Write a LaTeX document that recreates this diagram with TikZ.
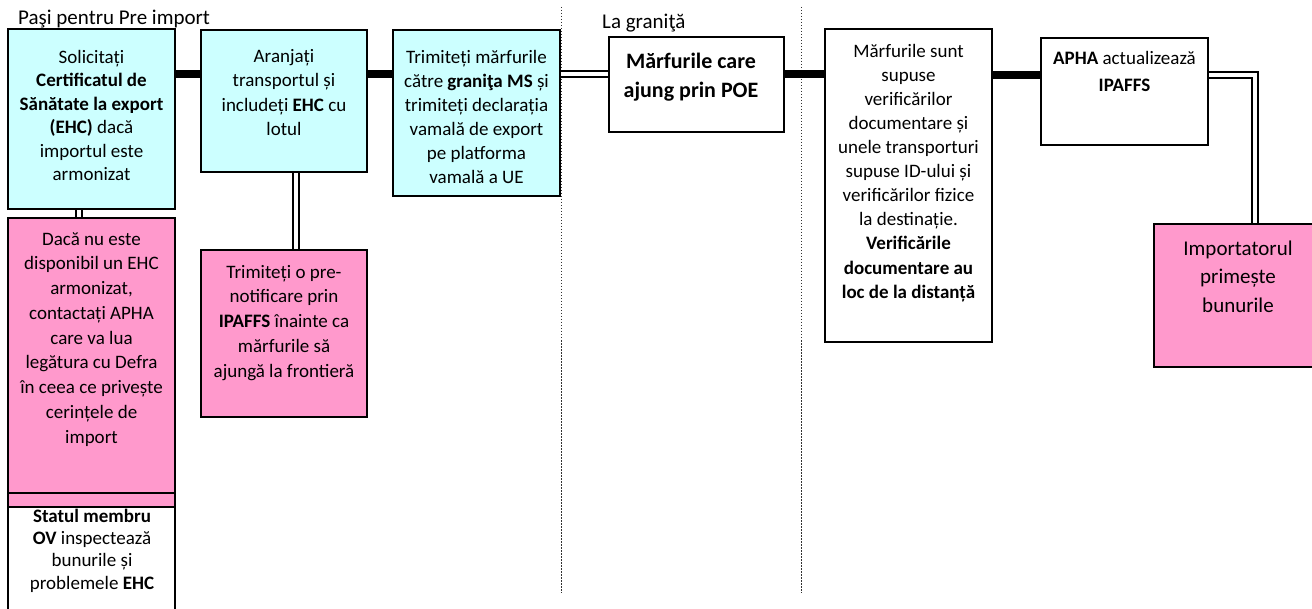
\documentclass[tikz,border=0pt]{standalone}
\usepackage{fontspec}
\setmainfont{Carlito}
\usetikzlibrary{backgrounds}
\definecolor{cyanbox}{HTML}{CCFFFF}
\definecolor{pinkbox}{HTML}{FF99CC}
\begin{document}
\begin{tikzpicture}[x=1pt,y=-1pt,
  box/.style={draw=black, line width=1.8pt, rectangle, inner sep=0pt, outer sep=0pt, anchor=north west},
  cbox/.style={box, fill=cyanbox},
  pbox/.style={box, fill=pinkbox},
  wbox/.style={box, fill=white},
  txt/.style args={#1/#2}{inner sep=0pt, anchor=north, align=center, font=\fontsize{#1}{#2}\selectfont},
  ttl/.style={inner sep=0pt, anchor=base west, font=\fontsize{21}{25}\selectfont},
  thickcon/.style={line width=8pt, black},
  dblcon/.style={draw=black, line width=2.2pt, double=white, double distance=3.2pt},
  divider/.style={line width=0.8pt, dash pattern=on 1.5pt off 1.5pt, black!80}
]
\useasboundingbox (0,0) rectangle (1312,609);

% titles
\node[ttl] (t1) at (18,25) {Paşi pentru Pre import};
\node[ttl] (t2) at (602,29) {La graniţă};

% boxes
\node[cbox, minimum width=167pt, minimum height=180pt] (A) at (8,29) {};
\node[cbox, minimum width=166pt, minimum height=142pt] (B) at (201,30) {};
\node[cbox, minimum width=167pt, minimum height=166pt] (C) at (393,30) {};
\node[wbox, minimum width=175pt, minimum height=95pt] (D) at (609,37) {};
\node[wbox, minimum width=167pt, minimum height=313pt] (E) at (825,29) {};
\node[wbox, minimum width=167pt, minimum height=107pt] (F) at (1041,38) {};
\node[pbox, minimum width=169pt, minimum height=143pt] (G) at (1154,224) {};
\node[pbox, minimum width=167pt, minimum height=275pt] (H) at (8,218) {};
\node[pbox, minimum width=167pt, minimum height=14pt] (S) at (8,493) {};
\node[wbox, minimum width=167pt, minimum height=123pt] (I) at (8,507) {};
\node[pbox, minimum width=166pt, minimum height=167pt] (J) at (201,250) {};

% texts
\node[txt=19/23.5] (tA) at (91.5,46.5) {\strut Solicitați\\\textbf{Certificatul de}\\\textbf{Sănătate la export}\\\textbf{(EHC)} dacă\\importul este\\armonizat};
\node[txt=19/24.2] (tB) at (284,45.6) {\strut Aranjați\\transportul și\\includeți \textbf{EHC} cu\\lotul};
\node[txt=19/24] (tC) at (476.5,46.2) {\strut Trimiteți mărfurile\\către \textbf{graniţa MS} și\\trimiteți declarația\\vamală de export\\pe platforma\\vamală a UE};
\node[txt=22/29] (tD) at (691,47.7) {\strut\textbf{Mărfurile care}\\\textbf{ajung prin POE}};
\node[txt=19/24.1] (tE) at (908.5,40.1) {\strut Mărfurile sunt\\supuse\\verificărilor\\documentare și\\unele transporturi\\supuse ID-ului și\\verificărilor fizice\\la destinație.\\\textbf{Verificările}\\\textbf{documentare au}\\\textbf{loc de la distanță}};
\node[txt=19/27] (tF) at (1124.5,45.1) {\strut\textbf{APHA} actualizează\\\textbf{IPAFFS}};
\node[txt=21/28.5] (tG) at (1238,235) {\strut Importatorul\\primește\\bunurile};
\node[txt=19/24.75] (tH) at (91.5,227.7) {\strut Dacă nu este\\disponibil un EHC\\armonizat,\\contactați APHA\\care va lua\\legătura cu Defra\\în ceea ce privește\\cerințele de\\import};
\node[txt=19/24.75] (tJ) at (284,260.7) {\strut Trimiteți o pre-\\notificare prin\\\textbf{IPAFFS} înainte ca\\mărfurile să\\ajungă la frontieră};
\node[txt=19/22.4] (tI) at (92,506.3) {\strut\textbf{Statul membru}\\\textbf{OV} inspectează\\bunurile și\\problemele \textbf{EHC}};

% connector anchor points
\coordinate (ab) at ([yshift=-45pt]A.north east);
\coordinate (bc) at ([yshift=-44pt]B.north east);
\coordinate (cd) at ([yshift=-44pt]C.north east);
\coordinate (de) at ([yshift=-37.5pt]D.north east);
\coordinate (ef) at ([yshift=-46pt]E.north east);
\coordinate (fg) at ([yshift=-37pt]F.north east);
\coordinate (gt) at ([xshift=101pt]G.north west);
\coordinate (ah) at ([xshift=-12.5pt]A.south);
\coordinate (bj) at ([xshift=12pt]B.south);

\begin{scope}[on background layer]
  \fill[white] (0,0) rectangle (1312,609);
  \draw[divider] (561,7) -- (561,593);
  \draw[divider] (801,7) -- (801,593);
  \draw[thickcon] (ab) -- (ab -| B.west);
  \draw[thickcon] (bc) -- (bc -| C.west);
  \draw[dblcon] (cd) -- (cd -| D.west);
  \draw[thickcon] (de) -- (de -| E.west);
  \draw[thickcon] (ef) -- (ef -| F.west);
  \draw[dblcon] (fg) -| (gt);
  \draw[dblcon] (ah) -- (ah |- H.north);
  \draw[dblcon] (bj) -- (bj |- J.north);
\end{scope}
\end{tikzpicture}
\end{document}
